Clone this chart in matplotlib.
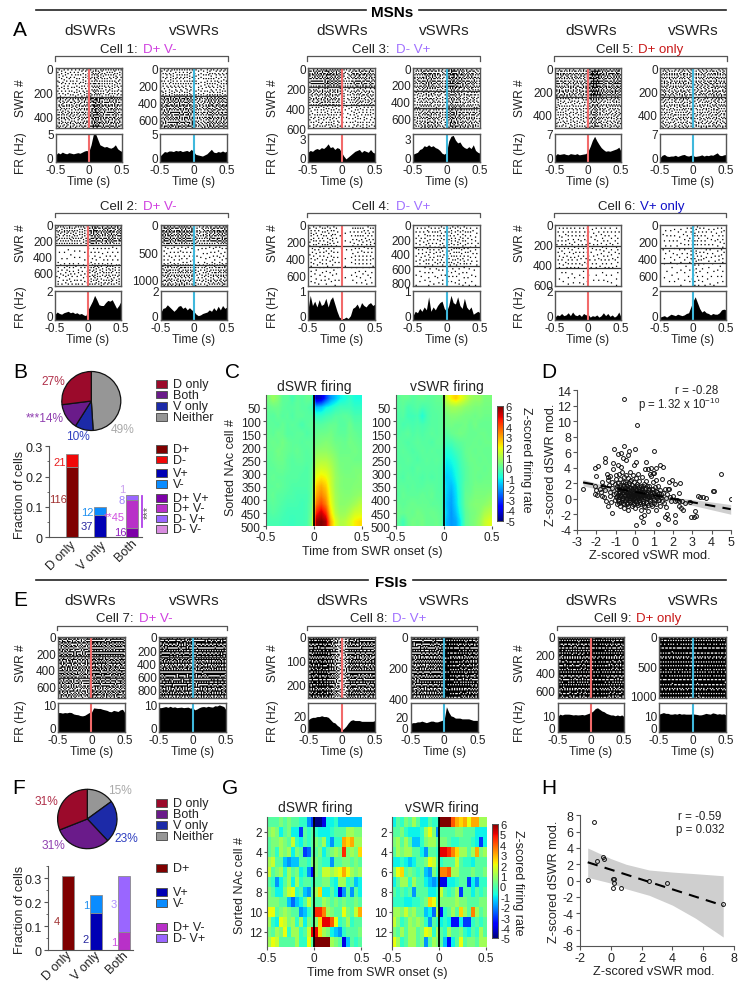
import numpy as np
import matplotlib
matplotlib.use('Agg')
import matplotlib.pyplot as plt
from matplotlib.patches import Rectangle

plt.rcParams['font.family'] = ['Liberation Sans', 'DejaVu Sans']
plt.rcParams['mathtext.default'] = 'regular'
plt.rcParams['mathtext.fontset'] = 'custom'
plt.rcParams['mathtext.rm'] = 'Liberation Sans'
plt.rcParams['axes.unicode_minus'] = False

W, H = 750, 987
DARK = '#222222'
FRAME = '#555555'
RED_LINE = '#f26a6a'
CYAN_LINE = '#3fb8dc'

# ---------- firing-rate curves (31 bins, -0.5 .. 0.5 s) ----------
fr_c1d = [1.2,1.6,1.4,1.7,1.5,1.4,1.6,1.5,1.4,1.5,1.6,1.5,1.7,1.9,2.0,1.8,3.0,4.8,5.0,4.0,3.0,2.8,2.6,2.7,2.5,2.4,2.6,3.0,2.3,2.0,1.8]
fr_c1v = [1.0,1.4,1.8,1.7,1.9,1.9,1.8,2.0,1.9,2.0,1.8,1.9,2.0,1.8,2.2,1.8,1.3,1.2,1.1,1.0,1.2,1.4,1.8,2.2,1.7,1.6,1.8,1.7,1.9,1.7,1.9]
fr_c3d = [1.0,1.2,1.1,1.3,1.4,1.3,1.5,1.4,1.6,1.9,1.5,1.6,1.3,1.5,1.4,1.0,0.6,0.3,0.5,0.7,0.9,1.1,1.2,1.3,1.0,1.2,1.1,1.0,1.3,1.0,0.9]
fr_c3v = [0.8,0.9,1.0,1.3,1.4,1.7,1.6,1.8,1.6,1.7,1.5,1.4,1.2,0.9,0.8,1.0,2.2,2.7,2.8,2.3,2.0,2.1,1.7,1.5,1.4,1.6,1.4,1.8,1.2,1.0,0.9]
fr_c5d = [1.5,2.0,1.8,1.9,2.0,1.8,1.7,2.0,1.9,1.8,2.0,1.7,1.8,1.9,2.0,2.6,3.8,5.3,6.3,5.2,4.3,3.5,3.0,2.6,2.7,2.6,2.8,3.0,3.2,3.6,2.6]
fr_c5v = [1.0,1.6,1.8,1.4,1.3,1.4,1.4,1.6,1.3,1.5,1.7,1.8,1.5,1.4,1.6,1.5,1.3,1.4,1.5,1.7,1.4,1.6,1.5,1.7,1.6,1.9,2.2,1.6,1.5,1.7,1.8]
fr_c2d = [0.4,0.55,0.45,0.4,0.5,0.55,0.6,0.5,0.55,0.45,0.5,0.4,0.45,0.35,0.3,0.7,1.0,1.3,1.7,1.4,1.05,1.0,1.0,1.2,1.35,1.3,1.4,1.1,0.8,1.0,1.3]
fr_c2v = [0.5,0.8,0.85,1.05,0.9,0.75,0.6,0.75,0.95,1.0,0.8,0.9,0.7,0.85,0.7,0.6,0.4,0.3,0.35,0.45,0.5,0.55,0.7,0.6,0.85,0.65,0.95,0.7,1.0,0.8,0.9]
fr_c4d = [0.35,0.85,0.5,0.65,0.45,0.7,0.5,0.55,0.75,0.45,0.7,0.8,0.55,0.3,0.1,0.05,0.05,0.1,0.05,0.15,0.4,0.45,0.55,0.4,0.6,0.5,0.45,0.55,0.6,0.5,0.55]
fr_c4v = [0.15,0.3,0.25,0.4,0.3,0.45,0.35,0.8,0.3,0.45,0.35,0.5,0.6,0.65,0.4,0.3,0.5,0.85,0.6,0.55,0.8,0.5,0.4,0.75,0.45,0.35,0.45,0.2,0.25,0.3,0.25]
fr_c6d = [0.2,0.35,0.3,0.45,0.3,0.35,0.5,0.3,0.55,0.35,0.3,0.4,0.25,0.45,0.35,0.4,0.2,0.3,0.25,0.35,0.2,0.3,0.5,0.3,0.45,0.25,0.35,0.2,0.3,0.55,0.2]
fr_c6v = [0.2,0.25,0.3,0.2,0.3,0.4,0.35,0.3,0.4,0.35,0.3,0.35,0.45,0.5,0.9,1.3,1.6,1.2,0.8,0.55,0.65,0.5,0.45,0.35,0.45,0.4,0.4,0.5,0.7,0.75,0.7]
fr_c7d = [7.0,7.0,6.8,7.0,6.9,7.1,7.0,6.5,6.3,6.2,5.9,5.8,6.0,6.5,7.0,7.0,8.7,8.6,8.5,8.5,8.2,8.0,7.8,7.4,7.3,7.8,7.6,7.4,8.0,8.2,7.0]
fr_c7v = [8.8,8.8,9.0,9.2,8.9,9.3,8.9,9.1,8.8,8.9,9.0,8.8,8.9,9.0,8.6,8.8,8.0,8.3,8.8,9.1,9.2,9.0,9.3,9.1,9.0,9.5,9.4,9.8,9.5,9.2,8.0]
fr_c8d = [15,17,18,18,19,19,20,19,19,18,15,12,11,8,6,2,4,7,11,14,15,14,14,14,13,13,13,13,13,13,14]
fr_c8v = [11,12,12,13,13,14,13,12,13,14,14,13,13,14,15,16,33,26,21,20,18,18,18,17,17,17,17,16,15,15,15]
fr_c9d = [9.5,11,10.5,11,11,11,10.8,10.5,10.7,10.5,10.6,10.8,10.5,11,11.5,12,13,14.5,15,14,13,12.5,11.5,11,10.5,10.5,10,10.5,10,10.5,9.5]
fr_c9v = [11,11.5,12,11.5,11.5,11,11,11.3,11,11.5,11,11.2,11,11,11,11.2,11,10.8,10.5,10.6,11,11.5,11.2,11,11.8,11.5,11,11.3,11,11.2,10.5]

# ---------- raster: mean spike density per recording block ----------
# (x0, x1, y0, y1 px), (fr y0, y1 px), swr ticks, swr max, block edges, block density, fr curve, fr max, fr ticks, type
panels = [
 ((55.7,122,69,129),(134.5,162.7),[0,200,400],490,[240],[.22,.38],fr_c1d,5,[0,5],'d'),
 ((160,227,69,129),(134.5,162.7),[0,200,400,600],693,[320],[.2,.42],fr_c1v,5,[0,5],'v'),
 ((308,375,69,129),(134.5,162.7),[0,200,400,600],600,[187,370],[.42,.3,.18],fr_c3d,3,[0,3],'d'),
 ((413,480,69,129),(134.5,162.7),[0,200,400,600],720,[272,480],[.42,.3,.36],fr_c3v,3,[0,3],'v'),
 ((555,621,69,129),(134.5,162.7),[0,200,400],520,[250],[.45,.28],fr_c5d,7,[0,7],'d'),
 ((660,726,69,129),(134.5,162.7),[0,200,400],520,[250],[.33,.28],fr_c5v,7,[0,7],'v'),
 ((55,121,226,287),(292,321),[0,200,400,600],765,[246,500],[.35,.07,.18],fr_c2d,2,[0,2],'d'),
 ((160.7,227,226,287),(292,321),[0,500,1000],1120,[360,730],[.42,.1,.28],fr_c2v,2,[0,2],'v'),
 ((308,375,226,287),(292,321),[0,200,400,600],730,[256,500],[.13,.1,.07],fr_c4d,1,[0,1],'d'),
 ((413,480,226,287),(292,321),[0,200,400,600,800],850,[310,575],[.13,.13,.07],fr_c4v,1,[0,1],'v'),
 ((555,621,226,287),(292,321),[0,200,400,600],615,[215,430],[.1,.1,.05],fr_c6d,2,[0,2],'d'),
 ((660,726,226,287),(292,321),[0,200,400,600],720,[272,445],[.1,.1,.06],fr_c6v,2,[0,2],'v'),
 ((58,124.7,637.7,699.3),(704,732.7),[0,200,400,600],740,[236,500],[.55,.55,.5],fr_c7d,10.5,[0,10],'d'),
 ((159,226,637.7,699.3),(704,732.7),[0,200,400,600,800],925,[300,615],[.65,.62,.62],fr_c7v,10.5,[0,10],'v'),
 ((308.3,375,637.7,699.3),(704,732.7),[0,100,200],260,[],[.62],fr_c8d,36,[0,20],'d'),
 ((410.7,477.7,637.7,699.3),(704,732.7),[0,200,400],400,[],[.72],fr_c8v,38,[0,20],'v'),
 ((557.7,624,637.7,699.3),(704,732.7),[0,200,400,600],690,[],[.78],fr_c9d,18,[0,10],'d'),
 ((659,726,637.7,699.3),(704,732.7),[0,500,1000],1050,[],[.85],fr_c9v,18,[0,10],'v'),
]
# horizontal streak weights seen across raster rows (cycled down each panel)
streaks = [1.1,.85,1.25,.7,1.05,1.35,.8,.95,1.2,.65,1.15,.9,1.3,.75,1.0,1.25,.85,.7,1.2,1.05,.8,1.3,.95,.75,1.15]

# ---------- panel B / F ----------
pie_b_values = [49, 10, 14, 27]
pie_f_values = [15, 23, 31, 31]
pie_colors = ['#969696', '#1c2aa8', '#6a1b8a', '#9b0a2b']
counts_b_total = 497
counts_b = {'D only': [116, 21], 'V only': [37, 12], 'Both': [16, 45, 8, 1]}
colors_b = {'D only': ['#7f0000', '#f00808'], 'V only': ['#0000b4', '#0a8cff'],
            'Both': ['#7d00a8', '#b830c8', '#9a66ff', '#d88ce0']}
counts_f_total = 13
counts_f = {'D only': [4], 'V only': [2, 1], 'Both': [1, 3]}
colors_f = {'D only': ['#7f0000'], 'V only': ['#0000b4', '#0a8cff'], 'Both': ['#b830c8', '#9a66ff']}
bar_names = ['D only', 'V only', 'Both']

# ---------- heat maps: row bands (top to bottom) x time bins ----------
heat_c_d = [
 [.5,.9,.6,.1,.1,-.2,.1,0,.2,.2,-4.5,-4.2,-3,-2,-1.5,-1,-.8,-.5,-.8,-.8],
 [.2,.3,.3,.1,0,0,.1,0,0,-.2,-1.6,-1.5,-1,-.8,-.5,-.3,-.3,-.3,-.5,-.5],
 [.1,0,.2,0,.1,-.1,.1,.1,0,0,-.5,-.5,-.3,-.2,0,0,.1,0,-.2,-.2],
 [.1,.1,0,.2,0,.1,0,-.2,0,.1,0,0,.1,.2,.2,0,0,.3,0,0],
 [.2,.1,.3,.2,0,0,.1,.1,-.1,0,.2,.3,.3,.4,.2,.1,.1,.3,.2,.1],
 [.2,.3,.2,.4,.2,.1,.1,0,.1,.1,.4,.5,.6,.5,.3,.3,.2,.4,.3,.2],
 [.2,.2,.4,.3,.2,.1,.2,.1,0,.1,.7,.8,.8,.7,.5,.3,.3,.3,.4,.3],
 [.1,.2,.3,.3,.1,0,.1,.1,0,0,1.1,1.2,1.2,1,.7,.4,.4,.4,.3,.3],
 [.1,.1,.2,.2,.1,0,0,0,-.1,.1,1.5,1.7,1.6,1.3,.8,.5,.4,.4,.5,.5],
 [.1,.2,.1,.1,0,0,0,-.1,-.1,.1,2,2.3,2.1,1.5,.9,.6,.5,.5,.5,.6],
 [.1,.1,.2,.1,0,-.1,-.1,-.1,-.1,.1,2.6,3,2.6,1.6,.9,.6,.5,.5,.6,.6],
 [.1,.2,0,0,-.1,-.1,-.2,-.2,-.2,.1,3,3.5,3,1.8,1,.7,.6,.6,.7,.8],
 [0,.1,0,-.1,-.2,-.2,-.2,-.3,-.2,.2,3.6,4.2,3.5,2,1.1,.7,.7,.8,1,1.3],
 [-.1,0,-.1,-.2,-.3,-.3,-.3,-.3,-.2,.3,4.6,5.3,4.5,2.4,1.3,.9,.9,1.2,1.6,1.7],
 [-.2,-.2,-.2,-.3,-.3,-.4,-.3,-.3,-.2,.5,5.7,6,5.6,3,1.8,1.2,1.3,1.7,2.2,2.4],
]
heat_c_v = [
 [.1,.2,.2,0,.1,.2,.1,.1,.2,.2,1.5,2.2,2.6,2,1.5,1,.8,.8,.5,.5],
 [0,.1,-.2,-.1,0,-.2,-.1,0,.1,.1,.8,1,1,.9,.7,.6,.5,.5,.4,.4],
 [-.1,0,-.3,-.3,-.2,-.7,-.2,0,0,.1,.4,.6,.6,.5,.4,.4,.3,.4,.3,.3],
 [0,-.2,-.1,-.2,-.1,-.2,-.1,0,0,.1,.3,.4,.3,.3,.4,.2,.4,.2,.2,.2],
 [-.1,0,.1,-.1,0,-.1,0,.1,0,.1,0,.2,.3,.4,.3,.2,.2,.3,.3,.2],
 [.1,0,-.1,0,.1,0,0,-.1,.1,.1,-.3,-.2,0,.1,.2,.2,.3,.2,.3,.3],
 [0,.1,0,-.1,0,.1,0,.1,0,0,-.7,-.6,-.3,-.1,.2,.3,.2,.3,.2,.2],
 [0,0,.1,0,-.1,0,.1,0,.1,0,-1,-.9,-.6,-.2,.1,.3,.3,.2,.3,.2],
 [.1,0,0,-.1,.1,0,0,0,0,-.1,-1.2,-1.1,-.8,-.3,0,.2,.3,.3,.2,.3],
 [0,-.1,.1,0,0,-.1,0,-.1,0,-.1,-1.4,-1.3,-.9,-.4,0,.2,.3,.2,.3,.3],
 [.1,.1,0,.1,0,0,.1,.1,0,-.1,-1.3,-1.6,-1.1,-.4,.1,.2,.4,.4,.4,.4],
 [0,.2,.1,.1,.1,.2,.1,.2,0,0,-1.4,-1.8,-1.2,-.5,.2,.3,.5,.5,.5,.6],
 [.2,.1,.2,.3,.2,.2,.2,.1,.1,0,-1.5,-1.9,-1.3,-.5,.2,.5,.6,.6,.7,.9],
 [.3,.2,.3,.2,.4,.3,.2,.3,.2,.1,-1.4,-2,-1.5,-.7,.1,.4,.5,.7,1.1,1.3],
 [.1,-.3,.2,.4,.3,.4,.2,.2,.3,.1,-1.6,-2,-1.8,-1,.1,.4,.6,.9,1.5,1.8],
]
heat_g_d = [
 [0,0,0,.5,0,.5,0,0,-.5,-.5,-2,-3,-5,-5,-4,-1,-1,-.5,-1.5,-1.5,-1.5,-1.5,-1.5,-1.5],
 [.5,1,.5,-1,0,.5,-1,-1,-3,0,-.5,0,-.5,-1,-1,-1,-.5,0,0,0,1,1,.5,.5],
 [0,.5,.5,1,.5,0,1.5,-.5,-1,0,-.5,0,.5,0,1,-1,-2,-.5,-.5,3,2.5,3,1,1],
 [0,.5,-.5,1,.5,1,-1,.5,0,-3,-2.5,0,0,.5,-1,0,.5,1,.5,4.5,.5,1,.5,2.5],
 [1,1.5,0,0,-1.5,-2,-1.5,-1.5,0,0,-.5,.5,.5,0,-.5,-.5,-2,0,0,.5,.5,0,.5,0],
 [1.5,0,.5,1,-.5,1,0,.5,-1,-.5,-2,-3.5,.5,0,1.5,1.5,1,1.5,2,3,2,1,.5,1],
 [0,-.5,-2,-1,0,1,-1,1,-.5,0,0,-.5,0,0,.5,.5,-.5,-1,1,1,-.5,0,-1.5,-1],
 [.5,0,-1,-1,.5,1.5,2,-.5,0,-1.5,-2,0,1,2.5,-1,-1,0,-1,-4,-2,0,-2,0,-1],
 [.5,.5,.5,0,0,-1.5,-2.5,-1.5,-1,0,1.5,0,0,0,1,.5,0,.5,0,.5,0,0,.5,0],
 [2,2,0,.5,1,.5,0,0,-2,-1.5,-.5,0,4.5,4.5,3.5,1,.5,0,0,2,.5,0,1.5,3],
 [1,-.5,-1,2,1.5,.5,1,-.5,1,-1,.5,0,.5,2.5,5,5,4,2,-.5,0,1,-.5,0,0],
 [.5,0,1,.5,2,-.5,1,1,-.5,0,1.5,5,5,2.5,1,.5,-1,-1.5,-2,-.5,0,0,0,.5],
 [1,2,1.5,0,0,0,0,1,-.5,-.5,2,0,6,6,6,6,1,.5,0,-4,-1.5,0,-.5,0],
]
heat_g_v = [
 [-1,0,-.5,.5,0,1,0,-1,-1,0,-.5,-.5,6,6,6,4,3,2.5,3,2,3,3,1,1],
 [0,0,.5,-.5,-1,-1,-1,-.5,1,2,.5,-2,0,0,0,0,.5,.5,0,0,0,-1,-1,-1],
 [.5,1,0,1,0,-1.5,-1.5,-.5,.5,1,1,0,.5,.5,0,-.5,-.5,0,0,0,-.5,-1,-3,-1],
 [0,1,.5,1,1,0,0,-1,-2,0,0,-.5,5,5,4.5,3.5,2.5,1,1,0,1,3,.5,1],
 [-1,-1,-.5,-1,-1.5,-1,0,0,.5,2,1.5,0,-.5,0,0,0,1.5,0,-.5,-.5,-1,0,0,0],
 [.5,2,2.5,0,.5,0,-.5,0,-1.5,-2,.5,-.5,3.5,3.5,4,1,1,0,0,0,.5,0,0,.5],
 [-1,0,1,1,-.5,1,0,0,-1,-1.5,-2,-1.5,-4,-4,-1,-1,-.5,0,0,-3,-1,-2,-.5,-.5],
 [0,-.5,0,-.5,0,-2,0,0,0,-1,-1,-.5,1.5,0,-.5,0,1,-3,0,0,-1,0,-.5,0],
 [-.5,-.5,-.5,-1,-1,-.5,-.5,0,.5,2.5,2,0,.5,.5,.5,.5,1,.5,.5,0,0,0,.5,.5],
 [1,1,.5,1.5,.5,1,0,0,-1.5,-1,-2.5,1,-3.5,-.5,0,1,0,2.5,1,0,3.5,1,0,.5],
 [1.5,.5,-.5,0,1,.5,1,.5,-.5,-2,0,-.5,-1,-.5,-1,-3.5,-3.5,-1,-3,-3,-.5,0,-.5,0],
 [.5,0,1,0,1,1,0,.5,2,1.5,-.5,1,0,-.5,1,0,0,.5,-.5,-1,0,-.5,1,0],
 [2,1,-.5,0,1,1,0,.5,-2,0,1,.5,0,-1.5,-3.5,-1,0,2,0,.5,.5,0,1,1],
]

# ---------- scatter D ----------
d_points = [
 (-2.7,1.3),(-2.1,4),(-1.9,4.2),(-2,2.9),(-1.55,4.7),(-1.55,5.2),(-1.1,6.4),(-.9,5.8),(-.7,5.9),(-.55,6.8),(-.6,5.2),(-.45,5),
 (-.35,5.6),(-.3,6.1),(0,6.4),(.1,9.5),(-.55,12.9),(1,6.2),(.05,4.8),(-.05,4.4),(.6,4.7),(.55,3.9),(.7,3.8),(.85,4),(1.1,4),
 (1.3,4.3),(1.45,4.1),(1,3.3),(.95,3.3),(.8,3.2),(3.3,.3),(3.4,.2),(3.55,.2),(3.7,.05),(4.1,1),(4.12,1),(4.5,3.2),(5,0),
 (2.95,-2.4),(3.1,-2.3),(3.2,-2.2),(3.15,-1.6),(2.9,-.4),(2.1,-3),(2.1,-2.1),(2.3,-1),(2.4,-1.2),(2.5,-1.4),(2.6,-.6),(2.3,.8),
 (1.8,2.1),(1.95,2.4),(2.1,1.9),(2.35,2),(1.8,1.3),(1.55,-2.3),(1.7,-2),(1.75,-2.6),(1.2,-3.3),(.05,-3.4),(.45,-3),(.3,-2.3),
 (.5,-2.1),(-1.2,-1.9),(-1.4,-.9),(-1.5,-.3),
 (-2.1,1.6),(-2.05,1.1),(-2.1,.6),(-1.95,.5),(-1.8,1.3),(-1.75,.9),(-1.7,.3),(-1.7,2.1),(-1.65,1.7),(-1.6,.2),(-1.55,1.1),
 (-1.45,3.2),(-1.42,2.8),(-1.4,2.4),(-1.35,1.8),(-1.3,2.9),(-1.3,.9),(-1.28,.3),(-1.25,-.4),(-1.2,2.2),(-1.18,1.4),(-1.15,3.9),
 (-1.12,4.6),(-1.1,.6),(-1.05,-.2),(-1.02,1.9),(-1,3.1),(-.98,2.6),(-.95,1.2),(-.95,-.7),(-.92,.3),(-.9,4.4),(-.88,2),(-.85,.9),
 (-.82,3.2),(-.8,1.5),(-.8,-.3),(-.78,.5),(-.75,-.9),(-.75,2.5),(-.72,4.1),(-.7,1.1),(-.68,.1),(-.65,3.4),(-.63,1.8),(-.62,-.5),
 (-.6,.8),(-.58,2.8),(-.55,.3),(-.55,-1.2),(-.52,1.4),(-.5,2.2),(-.48,-.1),(-.46,3.1),(-.44,.9),(-.42,1.7),(-.4,-.7),(-.38,.5),
 (-.36,2.7),(-.35,1.2),(-.33,-1.4),(-.32,.1),(-.3,2),(-.28,.7),(-.26,3.4),(-.25,1.5),(-.23,-.4),(-.22,.4),(-.2,1),(-.18,2.4),
 (-.17,-.9),(-.15,.2),(-.14,1.8),(-.12,.7),(-.1,3),(-.1,-.2),(-.08,1.2),(-.06,.4),(-.05,2.1),(-.03,-.6),(-.02,.9),(0,1.5),(0,.1),
 (.02,-1.2),(.03,.6),(.05,2.7),(.07,1.1),(.08,-.3),(.1,.3),(.12,1.9),(.13,.8),(.15,3.2),(.16,-.8),(.18,.1),(.2,1.3),(.22,.5),
 (.24,2.3),(.25,-.4),(.27,.9),(.3,1.6),(.32,.2),(.33,-1.5),(.36,.7),(.38,2.8),(.4,1.2),(.42,-.6),(.45,.4),(.47,1.9),(.5,.9),
 (.52,-1.1),(.55,.1),(.57,1.4),(.6,2.3),(.62,.6),(.65,-.5),(.68,1.1),(.7,-1.6),(.72,.2),(.75,1.7),(.78,.8),(.8,-.3),(.83,2.9),
 (.85,.4),(.88,1.3),(.9,-1),(.93,.1),(.95,2.1),(1,.7),(1.02,-.5),(1.05,1.5),(1.08,-1.4),(1.1,.3),(1.13,2.4),(1.15,.9),(1.2,-.2),
 (1.22,1.7),(1.25,.4),(1.3,-.9),(1.33,1.1),(1.38,.2),(1.4,2.6),(1.45,.8),(1.5,-.5),(1.55,1.3),(1.6,.1),(1.65,-1.1),(1.7,.6),
 (1.75,1.2),(1.85,.2),(1.9,-.3),(2,.4),(2.1,-.3),(2.2,-.2),(2.3,-.3),(2.45,-.35),
 (-1,.2),(-.97,.8),(-.93,1.6),(-.9,-.2),(-.87,.5),(-.84,1.2),(-.83,-.6),(-.8,.2),(-.77,.9),(-.76,1.8),(-.73,-.4),(-.71,.4),
 (-.69,1.4),(-.67,-.2),(-.66,.7),(-.64,2.1),(-.6,.1),(-.59,1.1),(-.57,-.7),(-.56,.6),(-.54,1.7),(-.53,-.3),(-.5,.5),(-.49,1),
 (-.47,.1),(-.45,1.9),(-.43,-.5),(-.41,.7),(-.39,1.3),(-.37,.1),(-.36,-.9),(-.34,.9),(-.31,.4),(-.29,1.5),(-.27,-.2),(-.25,.8),
 (-.24,2.3),(-.21,.1),(-.19,.6),(-.18,1.4),(-.16,-.4),(-.13,.3),(-.11,1),(-.09,-.7),(-.07,.5),(-.05,1.5),(-.04,.1),(-.01,.7),
 (.01,-.3),(.02,1.2),(.04,.3),(.06,.8),(.09,1.6),(.11,-.6),(.12,.4),(.14,1),(.17,.2),(.19,.7),(.21,-.2),(.23,1.5),(.26,.4),
 (.28,-.7),(.29,1.1),(.31,.6),(.34,-.1),(.35,1.4),(.37,.3),(.39,.9),(.41,-.3),(.43,1.6),(.46,.6),(.48,-.9),(.49,.2),(.51,1.3),
 (.53,.5),(.56,-.4),(.58,.8),(.61,.1),(.63,1.7),(.66,.3),(.69,-.8),(.71,.9),(.74,.4),(.76,1.2),(.79,-.1),(.82,.6),(.86,-.7),
 (.89,.9),(.92,.3),(.97,1.3),(.99,-.2),(1.04,.5),(1.09,1),(1.12,-.7),(1.17,.1),(1.24,.8),(1.28,-.2),(1.35,.6),(1.42,-.3),
]
fit_d_x = [-2.7, 5.0]
fit_d_y = [2.1, -1.35]
band_d_x = [-2.7, -1.5, 0, 1.5, 3, 5]
band_d_lo = [1.65, 1.0, .3, -.25, -.85, -2.0]
band_d_hi = [2.5, 1.65, .7, .3, -.1, -.75]

h_x = [-1.1,-1.5,-.9,-.5,-.45,.15,.2,.2,.15,.65,2.5,3.65,7.3]
h_y = [7.2,.1,2.4,2.9,2.65,.2,.15,-.3,-.95,-.9,0,-.3,-2.8]
fit_h_x = [-1.5, 7.3]
fit_h_y = [2.25, -3.05]
band_h_x = [-1.5, 0, 1, 2.5, 4, 5.5, 7.3]
band_h_hi = [4.0, 2.7, 2.0, 1.3, 1.05, .85, .6]
band_h_lo = [.4, -.3, -1.0, -1.8, -3.0, -4.6, -6.9]

fig = plt.figure(figsize=(W / 100, H / 100), dpi=100)

def ax_px(x0, x1, y0, y1, **kw):
    return fig.add_axes([x0 / W, 1 - y1 / H, (x1 - x0) / W, (y1 - y0) / H], **kw)

ov = ax_px(0, W, 0, H)
ov.set_xlim(0, W)
ov.set_ylim(H, 0)
ov.axis('off')
ov.set_zorder(5)

def T(x, y, s, size=8.6, color=DARK, ha='center', va='center', **kw):
    ov.text(x, y, s, fontsize=size, color=color, ha=ha, va=va, **kw)

def style(ax, size=8.5):
    for s in ax.spines.values():
        s.set_color(FRAME)
        s.set_linewidth(1.0)
    ax.tick_params(length=0, labelsize=size, pad=1.5, labelcolor=DARK)

def dither(density):
    # serpentine error diffusion: turns the density field into dots
    d = density.copy()
    out = np.zeros_like(d)
    r, c = d.shape
    for i in range(r):
        sgn = 1 if i % 2 == 0 else -1
        cols = range(c) if sgn == 1 else range(c - 1, -1, -1)
        for j in cols:
            v = 1.0 if d[i, j] >= .5 else 0.0
            out[i, j] = v
            e = d[i, j] - v
            if 0 <= j + sgn < c:
                d[i, j + sgn] += e * 7 / 16
            if i + 1 < r:
                if 0 <= j - sgn < c:
                    d[i + 1, j - sgn] += e * 3 / 16
                d[i + 1, j] += e * 5 / 16
                if 0 <= j + sgn < c:
                    d[i + 1, j + sgn] += e / 16
    return out

for (box, frbox, sticks, smax, seps, levels, fr, frmax, frticks, kind) in panels:
    x0, x1, y0, y1 = box
    col = RED_LINE if kind == 'd' else CYAN_LINE
    fr = np.asarray(fr, float)
    t = np.linspace(-.5, .5, len(fr))
    ax = ax_px(x0, x1, y0, y1)
    nr, nc = int((y1 - y0) / 1.25), int((x1 - x0) / 1.25)
    tc = np.linspace(-.5, .5, nc)
    prof = (np.interp(tc, t, fr) / fr.mean()) ** .6
    rows = (np.arange(nr) + .5) / nr * smax
    block = np.searchsorted(seps, rows)
    weight = np.resize(streaks, nr)
    dens = np.clip(np.outer(np.asarray(levels)[block] * weight, prof), 0, .97)
    ax.imshow(dither(dens), cmap='gray_r', vmin=0, vmax=1, aspect='auto',
              extent=[-.5, .5, smax, 0], interpolation='antialiased')
    for s in seps:
        ax.axhline(s, color='#333333', lw=.9)
    ax.axvline(0, color=col, lw=1.5)
    ax.set_xlim(-.5, .5)
    ax.set_ylim(smax, 0)
    ax.set_xticks([])
    ax.set_yticks(sticks)
    style(ax)
    # firing rate
    ax = ax_px(x0, x1, frbox[0], frbox[1])
    ax.fill_between(t, 0, fr, color='k', lw=0)
    ax.axvline(0, color=col, lw=1.5)
    ax.set_xlim(-.5, .5)
    ax.set_ylim(0, frmax)
    ax.set_xticks([-.5, 0, .5], ['-0.5', '0', '0.5'])
    ax.set_yticks(frticks)
    style(ax)
    labs = ax.get_yticklabels()
    labs[0].set_va('baseline')
    if frmax == 3:
        labs[1].set_va('top')
    T((x0 + x1) / 2, frbox[1] + 19.5, 'Time (s)')

# section rules
ov.plot([36, 366], [11, 11], color='#222222', lw=1.2)
ov.plot([419, 726], [11, 11], color='#222222', lw=1.2)
ov.plot([36, 368], [581, 581], color='#222222', lw=1.2)
ov.plot([413, 726], [581, 581], color='#222222', lw=1.2)
T(392, 13, 'MSNs', size=11, color='k', fontweight='bold')
T(391, 583, 'FSIs', size=11, color='k', fontweight='bold')

# panel letters
for x, y, s in [(20, 30, 'A'), (20, 372, 'B'), (232, 372, 'C'), (549, 372, 'D'), (20, 601, 'E'),
                (19, 788, 'F'), (230, 788, 'G'), (549, 788, 'H')]:
    T(x, y, s, size=15, color='k')

# column heads
for y in (31, 600.7):
    for x, s in [(90, 'dSWRs'), (194, 'vSWRs'), (342, 'dSWRs'), (444, 'vSWRs'), (591, 'dSWRs'), (693, 'vSWRs')]:
        T(x, y, s, size=11)

# cell titles and brackets
PURPLE = '#d040e0'
LILAC = '#a070ff'
DRED = '#c81818'
BLUE = '#1010c8'
titles = [
 (138, 142.7, 50, 'Cell 1:', 'D+ V-', PURPLE, 55, 227.7, 57),
 (390, 395.7, 50, 'Cell 3:', 'D- V+', LILAC, 307, 480, 57),
 (634, 637.7, 50, 'Cell 5:', 'D+ only', DRED, 553.7, 726.7, 57),
 (138, 142.7, 206.7, 'Cell 2:', 'D+ V-', PURPLE, 55, 227.7, 213.5),
 (390, 395.7, 206.7, 'Cell 4:', 'D- V+', LILAC, 307, 480, 213.5),
 (635, 640, 206.7, 'Cell 6:', 'V+ only', BLUE, 553.7, 726, 213.5),
 (134, 138.7, 619, 'Cell 7:', 'D+ V-', PURPLE, 57.3, 227.3, 626.7),
 (388, 392, 619, 'Cell 8:', 'D- V+', LILAC, 307, 477, 626.7),
 (631, 636, 619, 'Cell 9:', 'D+ only', DRED, 556.7, 726.7, 626.7),
]
for xr, xl, y, a, b, c, bx0, bx1, by in titles:
    T(xr, y, a, size=9.5, ha='right')
    T(xl, y, b, size=9.5, ha='left', color=c)
    ov.plot([bx0, bx0, bx1, bx1], [by + 4.5, by, by, by + 4.5], color='#555555', lw=.9)

# row y labels
for x in (21, 273, 520):
    T(x, 98, 'SWR #', rotation=90)
    T(x, 153, 'FR (Hz)', rotation=90)
    T(x, 243, 'SWR #', rotation=90)
    T(x, 307, 'FR (Hz)', rotation=90)
    T(x, 663, 'SWR #', rotation=90)
    T(x, 720.7, 'FR (Hz)', rotation=90)

# ---------- pies ----------
def pie(cx, cy, r, vals):
    ax = ax_px(cx - r - 2, cx + r + 2, cy - r - 2, cy + r + 2)
    ax.pie(vals, colors=pie_colors, startangle=90, counterclock=False, radius=r,
           wedgeprops=dict(edgecolor='#111111', linewidth=.9))
    ax.set_xlim(-r - 2, r + 2)
    ax.set_ylim(-r - 2, r + 2)

pie(91.3, 402, 29.5, pie_b_values)
pie(87.3, 820, 29.7, pie_f_values)
T(53, 382, '27%', size=8.6, color='#b0304a', ha='center')
T(64, 419, '***14%', size=8.6, color='#9040b0', ha='right')
T(78, 436.7, '10%', size=8.6, color='#3040c0')
T(123, 430, '49%', size=8.6, color='#aaaaaa')
T(120, 791, '15%', size=8.6, color='#aaaaaa')
T(126, 839, '23%', size=8.6, color='#3040c0')
T(46.7, 801.7, '31%', size=8.6, color='#b0304a')
T(53, 846, '31%', size=8.6, color='#9040b0')

# ---------- legends ----------
def legend(items):
    for y, label, c in items:
        ov.add_patch(Rectangle((156, y - 3.6), 11, 7.2, fc=c, ec='#555555', lw=.7))
        T(173, y, label, size=9, ha='left')

legend([(385, 'D only', '#9b0a2b'), (395.7, 'Both', '#6a1b8a'), (407, 'V only', '#1c2aa8'), (418, 'Neither', '#969696'),
        (450, 'D+', '#7f0000'), (460.7, 'D-', '#f00808'), (474, 'V+', '#0000b4'), (485, 'V-', '#0a8cff'),
        (499, 'D+ V+', '#7d00a8'), (509, 'D+ V-', '#b830c8'), (519.7, 'D- V+', '#9a66ff'), (530, 'D- V-', '#d88ce0'),
        (804, 'D only', '#9b0a2b'), (815, 'Both', '#6a1b8a'), (826, 'V only', '#1c2aa8'), (837, 'Neither', '#969696'),
        (869, 'D+', '#7f0000'), (893, 'V+', '#0000b4'), (904, 'V-', '#0a8cff'), (928, 'D+ V-', '#b830c8'), (939, 'D- V+', '#9a66ff')])

# ---------- stacked bars ----------
def bars(box, ylim, counts, colors, total, centers, width, ticks, minor):
    ax = ax_px(*box)
    for name, cx in zip(bar_names, centers):
        bottom = 0
        for n, c in zip(counts[name], colors[name]):
            h = n / total
            ax.bar(cx, h, width, bottom=bottom, color=c, edgecolor='#8a8a8a', linewidth=.6)
            bottom += h
    ax.set_xlim(box[0], box[1])
    ax.set_ylim(0, ylim)
    ax.set_xticks([])
    ax.set_yticks(ticks, [('0' if v == 0 else f'{v:.1f}') for v in ticks])
    ax.set_yticks(minor, minor=True)
    for s in ('top', 'right'):
        ax.spines[s].set_visible(False)
    for s in ('left', 'bottom'):
        ax.spines[s].set_color(FRAME)
    ax.tick_params(axis='y', which='major', length=3, labelsize=9, pad=1.5, color=FRAME, labelcolor=DARK)
    ax.tick_params(axis='y', which='minor', length=1.5, color=FRAME)
    ax.patch.set_alpha(0)

bars((49, 141.7, 447.3, 538.3), .3, counts_b, colors_b, counts_b_total, [72.3, 99.7, 132], 12,
     [0, .1, .2, .3], [.05, .15, .25])
bars((47.7, 132.7, 866.7, 951.3), .352, counts_f, colors_f, counts_f_total, [67.7, 96.2, 123.8], 12,
     [0, .1, .2, .3], [.05, .15, .25, .35])

for x, y, s in [(61, 556, 'D only'), (92, 556, 'V only'), (126, 551, 'Both')]:
    T(x, y, s, size=9, rotation=45)
for x, y, s in [(57, 966.7, 'D only'), (86, 966.7, 'V only'), (117, 962.7, 'Both')]:
    T(x, y, s, size=9, rotation=45)
T(20, 495, 'Fraction of cells', size=9, rotation=90)
T(20, 910, 'Fraction of cells', size=9, rotation=90)

for x, y, s, c, ha in [(60, 463, '21', '#e82020', 'center'), (58, 500, '116', '#a03030', 'center'),
                       (87, 513, '12', '#2090f0', 'center'), (87, 527, '37', '#2828a0', 'center'),
                       (122, 490, '1', '#c9a0f0', 'center'), (122, 501, '8', '#a080ff', 'center'),
                       (124.5, 518, '**45', '#d050e0', 'right'), (120, 533, '16', '#9020c0', 'center'),
                       (57, 922, '4', '#a03030', 'center'), (86, 906, '1', '#2090f0', 'center'),
                       (86, 940, '2', '#2828a0', 'center'), (114, 905, '3', '#b090ff', 'center'),
                       (114, 943, '1', '#d050e0', 'center')]:
    T(x, y, s, size=8, color=c, ha=ha)
ov.plot([142, 142], [496.7, 528], color='#b040e8', lw=1.3)
T(147.5, 512, '***', size=8, color='#555555', rotation=90)

# ---------- heat maps ----------
def heat(box, data, interp, yticks, ylim):
    ax = ax_px(*box)
    ax.imshow(data, cmap='jet', vmin=-5, vmax=6, aspect='auto', interpolation=interp,
              extent=[-.5, .5, ylim[0], ylim[1]])
    ax.axvline(0, color='k', lw=1.3)
    ax.set_xlim(-.5, .5)
    ax.set_ylim(ylim)
    ax.set_xticks([-.5, 0, .5], ['-0.5', '0', '0.5'])
    ax.set_yticks(yticks)
    ax.tick_params(length=2, labelsize=8.5, pad=1.5, color=FRAME, labelcolor=DARK)
    for k, s in ax.spines.items():
        s.set_visible(k == 'left')
        s.set_color(FRAME)

rows_c = list(range(50, 501, 50))
rows_g = list(range(2, 13, 2))
heat((265.7, 361.7, 395.7, 527.3), np.array(heat_c_d), 'bilinear', rows_c, (500, 0))
heat((395.7, 491.7, 395.7, 527.3), np.array(heat_c_v), 'bilinear', rows_c, (500, 0))
heat((267, 361.3, 817.7, 947.7), np.array(heat_g_d), 'nearest', rows_g, (13.5, .5))
heat((391.7, 486, 817.7, 947.7), np.array(heat_g_v), 'nearest', rows_g, (13.5, .5))

cbar_ticks = list(range(6, -6, -1))
def cbar(box):
    ax = ax_px(*box)
    ax.imshow(np.linspace(6, -5, 128)[:, None], cmap='jet', vmin=-5, vmax=6, aspect='auto', extent=[0, 1, -5, 6])
    ax.set_xticks([])
    ax.yaxis.tick_right()
    ax.set_yticks(cbar_ticks)
    ax.tick_params(length=0, labelsize=8, pad=1.5, labelcolor=DARK)
    for s in ax.spines.values():
        s.set_color(FRAME)
        s.set_linewidth(.7)

cbar((496.7, 503.3, 406.7, 521.7))
cbar((492, 498, 825, 939.3))
T(526, 460, 'Z-scored firing rate', size=9, rotation=270)
T(518, 883, 'Z-scored firing rate', size=9, rotation=270)

T(314, 386.7, 'dSWR firing', size=10)
T(447, 386.7, 'vSWR firing', size=10)
T(372, 552, 'Time from SWR onset (s)', size=9)
T(231, 467, 'Sorted NAc cell #', size=9, rotation=90)
T(315, 808, 'dSWR firing', size=10)
T(442, 808, 'vSWR firing', size=10)
T(377, 973, 'Time from SWR onset (s)', size=9)
T(240, 885, 'Sorted NAc cell #', size=9, rotation=90)

# ---------- scatter axes ----------
def scatter_ax(box, xlim, ylim, xt, yt, px, py, fx, fy, bx, lo, hi, ms):
    ax = ax_px(*box)
    ax.fill_between(bx, lo, hi, color='#cfcfcf', lw=0, zorder=1)
    ax.plot(px, py, 'o', mfc='none', mec='#111111', mew=.7, ms=ms, zorder=2)
    ax.plot(fx, fy, color='k', lw=1.5, dashes=(5, 3.5), zorder=3)
    ax.set_xlim(xlim)
    ax.set_ylim(ylim)
    ax.set_xticks(xt)
    ax.set_yticks(yt)
    for s in ('top', 'right'):
        ax.spines[s].set_visible(False)
    for s in ('left', 'bottom'):
        ax.spines[s].set_color(FRAME)
    ax.tick_params(length=3, labelsize=9, pad=1.5, color=FRAME, labelcolor=DARK)

scatter_ax((577.3, 730.7, 391.3, 530.7), (-3, 5), (-4, 14), range(-3, 6), range(-4, 15, 2),
           [p[0] for p in d_points], [p[1] for p in d_points], fit_d_x, fit_d_y,
           band_d_x, band_d_lo, band_d_hi, 2.8)
scatter_ax((580, 734, 816.3, 947), (-2, 8), (-8, 8), range(-2, 9, 2), range(-8, 9, 2),
           h_x, h_y, fit_h_x, fit_h_y, band_h_x, band_h_lo, band_h_hi, 2.8)

T(697, 391, 'r = -0.28', size=8.3)
T(720, 405, 'p = 1.32 x 10$^{-10}$', size=8.3, ha='right')
T(650, 556, 'Z-scored vSWR mod.', size=9.2)
T(551, 465, 'Z-scored dSWR mod.', size=9.2, rotation=90)
T(700, 817, 'r = -0.59', size=8.3)
T(700, 830, 'p = 0.032', size=8.3)
T(654, 972, 'Z-scored vSWR mod.', size=9.2)
T(554, 882, 'Z-scored dSWR mod.', size=9.2, rotation=90)

fig.savefig('out.png', dpi=100)
